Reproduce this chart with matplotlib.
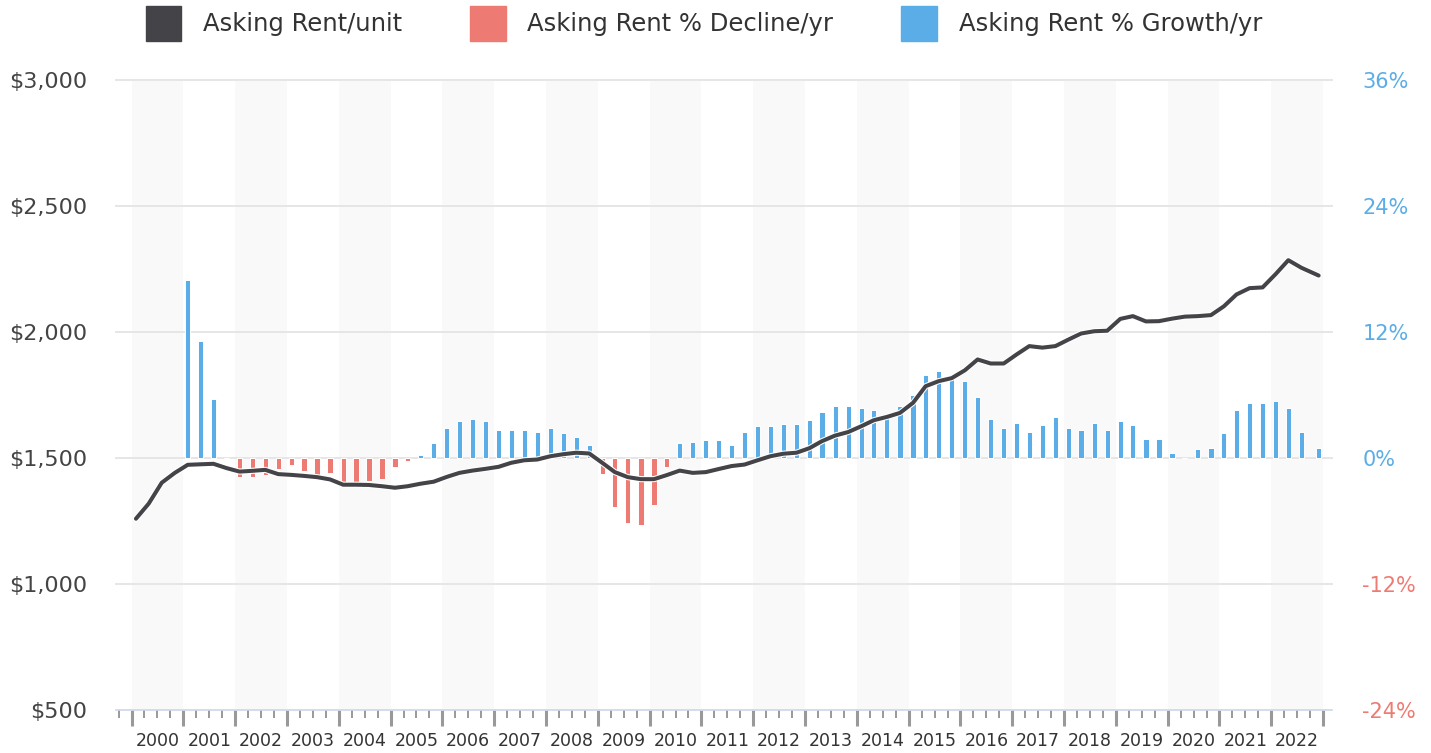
import matplotlib.pyplot as plt
import matplotlib.patheffects as pe
from matplotlib.patches import Patch
import numpy as np
import pandas as pd

plt.rcParams.update({"font.family": "DejaVu Sans"})

# quarterly observations (last one is the December reading)
dates = list(pd.date_range("2000-02-01", periods=91, freq="3MS")) + [pd.Timestamp("2022-12-01")]

# asking rent per unit ($), 2000 Q1 .. 2022 Q4
rent = [1259, 1319, 1402, 1441,
        1473, 1475, 1477, 1460,
        1446, 1449, 1453, 1436,
        1433, 1429, 1424, 1415,
        1394, 1394, 1393, 1388,
        1382, 1388, 1398, 1406,
        1425, 1441, 1450, 1457,
        1465, 1481, 1491, 1494,
        1507, 1515, 1521, 1518,
        1481, 1444, 1424, 1416,
        1416, 1432, 1450, 1441,
        1444, 1456, 1468, 1474,
        1491, 1507, 1517, 1521,
        1539, 1567, 1589, 1603,
        1626, 1650, 1663, 1679,
        1719, 1785, 1805, 1817,
        1848, 1891, 1875, 1875,
        1911, 1944, 1938, 1944,
        1970, 1994, 2003, 2005,
        2052, 2063, 2042, 2043,
        2053, 2061, 2063, 2067,
        2102, 2149, 2174, 2177,
        2230, 2285, 2255, 2224]

# year-over-year change (%), 2001 Q1 .. 2022 Q4
yoy = [17.0, 11.1, 5.6, 0.0,
       -1.8, -1.8, -1.6, -1.0,
       -0.7, -1.2, -1.6, -1.4,
       -2.35, -2.35, -2.2, -2.0,
       -0.85, -0.3, 0.25, 1.4,
       2.9, 3.5, 3.7, 3.5,
       2.7, 2.7, 2.7, 2.5,
       2.9, 2.35, 2.0, 1.2,
       -1.5, -4.7, -6.2, -6.4,
       -4.5, -0.9, 1.4, 1.55,
       1.75, 1.75, 1.2, 2.5,
       3.05, 3.05, 3.25, 3.25,
       3.65, 4.4, 5.0, 5.0,
       4.8, 4.6, 4.2, 5.0,
       6.0, 7.9, 8.3, 7.5,
       7.3, 5.8, 3.7, 2.9,
       3.3, 2.5, 3.1, 3.9,
       2.9, 2.7, 3.3, 2.7,
       3.5, 3.1, 1.8, 1.8,
       0.45, 0.0, 0.85, 1.0,
       2.35, 4.6, 5.2, 5.2,
       5.4, 4.8, 2.5, 1.0]

years = list(range(2000, 2023))
rent_ticks = [500, 1000, 1500, 2000, 2500, 3000]
pct_ticks = [-24, -12, 0, 12, 24, 36]
labels = ["Asking Rent/unit", "Asking Rent % Decline/yr", "Asking Rent % Growth/yr"]

LINE = "#434348"
RED = "#ee7b73"
BLUE = "#5aade6"

x = np.array([d.year + (d.dayofyear - 1) / 365.25 for d in dates])
xb = x[4:]
yoy = np.array(yoy)
growth = np.where(yoy > 0, yoy, 0)
decline = np.where(yoy < 0, yoy, 0)

fig = plt.figure(figsize=(14.31, 7.53), dpi=100)
rect = [116 / 1431, 1 - 710 / 753, (1331.7 - 116) / 1431, 630 / 753]
axl = fig.add_axes(rect)
axb = axl.twinx()
axl.set_zorder(axb.get_zorder() + 1)
axl.patch.set_visible(False)

axl.set_xlim(1999.7, 2023.166)
axl.set_ylim(500, 3000)
axb.set_ylim(-24, 36)

# alternating year bands and gridlines
for yr in years[::2]:
    axb.axvspan(yr, yr + 1, color="#f9f9f9", lw=0, zorder=0)
for v in pct_ticks[1:]:
    axb.axhline(v, color="#e6e6e6", lw=1.4, zorder=1, clip_on=False)

axb.bar(xb, growth, width=0.1, color=BLUE, edgecolor="white", linewidth=0.7, zorder=2)
axb.bar(xb, decline, width=0.1, color=RED, edgecolor="white", linewidth=0.7, zorder=2)

axl.plot(x, rent, color=LINE, lw=2.9, solid_capstyle="round", solid_joinstyle="round",
         path_effects=[pe.Stroke(linewidth=4.4, foreground="white"), pe.Normal()])

# x axis: year boundaries + quarter ticks
axl.set_xticks(range(2000, 2024))
axl.set_xticklabels([])
qt = np.arange(1999.75, 2023.01, 0.25)
axl.set_xticks([q for q in qt if q % 1 != 0], minor=True)
axl.tick_params(axis="x", which="major", length=11.5, width=2.2, color="#999999")
axl.tick_params(axis="x", which="minor", length=5.8, width=1.4, color="#999999")
for yr in years:
    axl.text(yr + 0.5, -31 / 630, str(yr), transform=axl.get_xaxis_transform(),
             ha="center", va="center", fontsize=12.5, color="#333333")

axl.set_yticks(rent_ticks)
axl.set_yticklabels(["${:,}".format(v) for v in rent_ticks])
axl.tick_params(axis="y", length=0, pad=21, labelsize=16, labelcolor="#444444")

axb.set_yticks(pct_ticks)
axb.set_yticklabels(["{}%".format(v) for v in pct_ticks])
axb.tick_params(axis="y", length=0, pad=22, labelsize=15)
for lab, v in zip(axb.get_yticklabels(), pct_ticks):
    lab.set_color(RED if v < 0 else BLUE)

for s in ["top", "left", "right"]:
    axl.spines[s].set_visible(False)
axl.spines["bottom"].set_color("#ccd6eb")
axl.spines["bottom"].set_linewidth(1.2)
for s in axb.spines.values():
    s.set_visible(False)

handles = [Patch(color=LINE), Patch(color=RED), Patch(color=BLUE)]
fig.legend(handles, labels, loc="upper center", bbox_to_anchor=(704 / 1431, 1.0), ncol=3,
           frameon=False, fontsize=17.5, handlelength=1.45, handleheight=1.85,
           handletextpad=0.9, columnspacing=2.8, borderpad=0.15, borderaxespad=0.1,
           labelcolor="#333333")

fig.savefig("out.png", dpi=100)
